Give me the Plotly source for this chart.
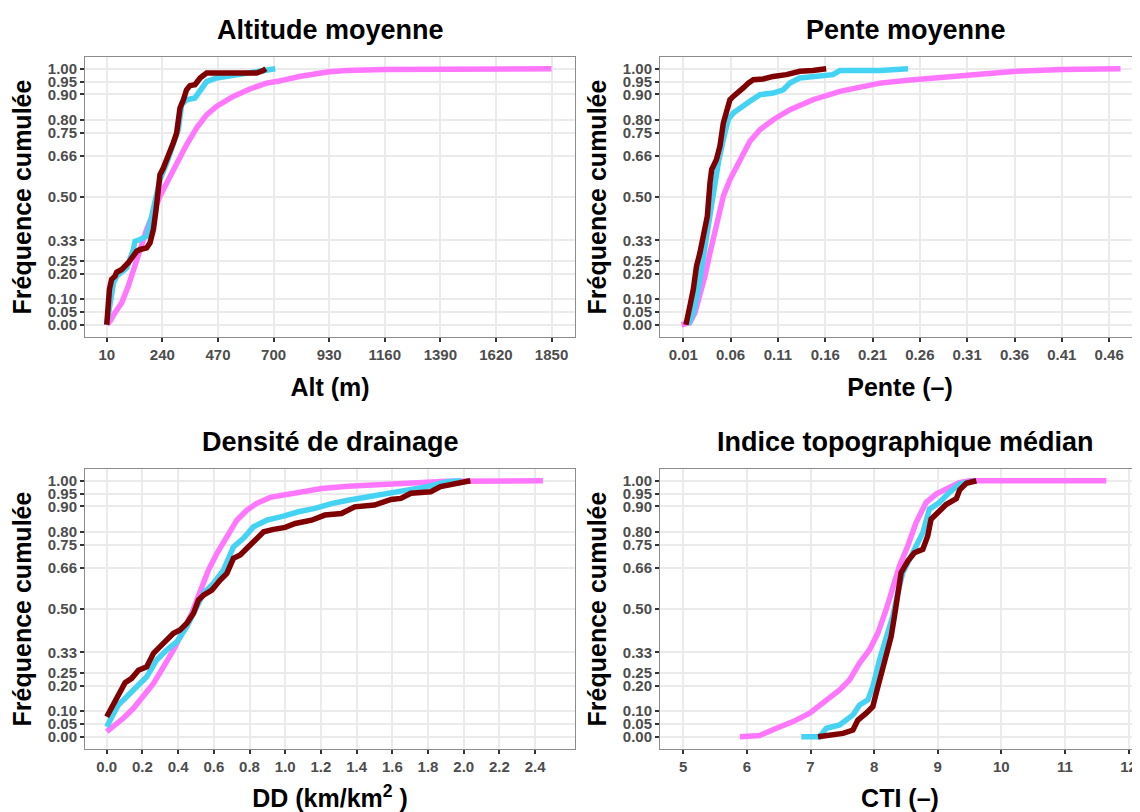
import plotly.graph_objects as go

# ---------------- data ----------------
# Colours / series: pink = tous les bassins, cyan = échantillon 1, maroon = échantillon 2
series_names = ["Tous les bassins", "Échantillon 1", "Échantillon 2"]

# Y ticks (shared)
y_tickvals = [0.00, 0.05, 0.10, 0.20, 0.25, 0.33, 0.50, 0.66, 0.75, 0.80, 0.90, 0.95, 1.00]
y_ticktext = ["0.00", "0.05", "0.10", "0.20", "0.25", "0.33", "0.50", "0.66", "0.75", "0.80", "0.90", "0.95", "1.00"]

# --- Altitude moyenne ---
alt_ticks = [10, 240, 470, 700, 930, 1160, 1390, 1620, 1850]
alt_pink_x = [10, 24, 44, 72, 99, 120, 148, 175, 203, 230, 258, 299, 340, 382, 423, 464, 533, 602, 671, 723, 806, 930, 1000, 1160, 1400, 1850]
alt_pink_f = [0.0, 0.014, 0.047, 0.086, 0.151, 0.216, 0.294, 0.372, 0.437, 0.502, 0.554, 0.632, 0.703, 0.769, 0.82, 0.853, 0.892, 0.921, 0.944, 0.952, 0.97, 0.988, 0.993, 0.997, 0.999, 1.0]
alt_cyan_x = [10, 24, 38, 51, 93, 120, 127, 148, 175, 196, 217, 230, 258, 285, 306, 320, 340, 375, 396, 423, 464, 506, 561, 643, 671, 707]
alt_cyan_f = [0.0, 0.086, 0.164, 0.19, 0.222, 0.294, 0.326, 0.333, 0.346, 0.424, 0.502, 0.567, 0.632, 0.697, 0.762, 0.86, 0.879, 0.886, 0.912, 0.95, 0.964, 0.97, 0.983, 0.99, 0.996, 1.0]
alt_maroon_x = [10, 14, 21, 30, 44, 51, 72, 99, 120, 134, 148, 175, 189, 203, 214, 223, 230, 244, 265, 285, 299, 313, 327, 340, 354, 375, 396, 423, 533, 630, 657, 668]
alt_maroon_f = [0.0, 0.05, 0.138, 0.177, 0.19, 0.205, 0.216, 0.242, 0.268, 0.287, 0.294, 0.30, 0.32, 0.372, 0.45, 0.528, 0.586, 0.612, 0.658, 0.71, 0.749, 0.847, 0.879, 0.918, 0.934, 0.938, 0.964, 0.983, 0.983, 0.983, 0.993, 1.0]

# --- Pente moyenne ---
pente_ticks = [0.01, 0.06, 0.11, 0.16, 0.21, 0.26, 0.31, 0.36, 0.41, 0.46]
pente_pink_x = [0.0082, 0.017, 0.0223, 0.0276, 0.0329, 0.0382, 0.0452, 0.0523, 0.0593, 0.0663, 0.0734, 0.0804, 0.091, 0.105, 0.1227, 0.147, 0.1755, 0.2177, 0.25, 0.281, 0.31, 0.3615, 0.41, 0.472]
pente_pink_f = [0.0, 0.008, 0.047, 0.112, 0.19, 0.281, 0.398, 0.502, 0.567, 0.619, 0.671, 0.717, 0.762, 0.801, 0.84, 0.879, 0.912, 0.944, 0.956, 0.965, 0.975, 0.99, 0.997, 1.0]
pente_cyan_x = [0.0153, 0.0206, 0.0258, 0.0311, 0.0364, 0.0417, 0.047, 0.0523, 0.0575, 0.0628, 0.0699, 0.0804, 0.091, 0.105, 0.1156, 0.1227, 0.133, 0.147, 0.168, 0.1755, 0.218, 0.2475]
pente_cyan_f = [0.0, 0.047, 0.138, 0.268, 0.385, 0.515, 0.632, 0.723, 0.801, 0.827, 0.847, 0.873, 0.899, 0.905, 0.918, 0.944, 0.964, 0.97, 0.977, 0.993, 0.993, 1.0]
pente_maroon_x = [0.0128, 0.0142, 0.017, 0.0206, 0.024, 0.0276, 0.0318, 0.0354, 0.0382, 0.040, 0.045, 0.0487, 0.0523, 0.0558, 0.0593, 0.0628, 0.0681, 0.0734, 0.0787, 0.084, 0.0945, 0.105, 0.119, 0.1332, 0.147, 0.161]
pente_maroon_f = [0.0, 0.034, 0.073, 0.138, 0.229, 0.281, 0.346, 0.424, 0.554, 0.606, 0.645, 0.697, 0.788, 0.834, 0.879, 0.892, 0.912, 0.925, 0.944, 0.957, 0.96, 0.97, 0.977, 0.99, 0.993, 1.0]

# --- Densité de drainage ---
dd_ticks = [0.0, 0.2, 0.4, 0.6, 0.8, 1.0, 1.2, 1.4, 1.6, 1.8, 2.0, 2.2, 2.4]
dd_pink_x = [0.0, 0.037, 0.093, 0.15, 0.206, 0.262, 0.318, 0.374, 0.43, 0.477, 0.523, 0.57, 0.617, 0.673, 0.729, 0.785, 0.841, 0.916, 1.0, 1.093, 1.204, 1.352, 1.537, 1.722, 1.907, 2.444]
dd_pink_f = [0.02, 0.039, 0.072, 0.111, 0.156, 0.208, 0.273, 0.339, 0.417, 0.482, 0.566, 0.651, 0.716, 0.781, 0.846, 0.885, 0.912, 0.935, 0.945, 0.957, 0.97, 0.979, 0.987, 0.993, 0.998, 1.0]
dd_cyan_x = [0.0, 0.028, 0.065, 0.112, 0.168, 0.224, 0.28, 0.336, 0.393, 0.449, 0.505, 0.542, 0.598, 0.654, 0.71, 0.766, 0.822, 0.897, 0.991, 1.074, 1.167, 1.259, 1.352, 1.463, 1.574, 1.685, 1.796, 1.907, 1.985]
dd_cyan_f = [0.039, 0.078, 0.124, 0.156, 0.195, 0.234, 0.30, 0.339, 0.371, 0.43, 0.508, 0.56, 0.599, 0.651, 0.742, 0.775, 0.82, 0.846, 0.862, 0.879, 0.892, 0.911, 0.924, 0.9375, 0.95, 0.964, 0.977, 0.996, 1.0]
dd_maroon_x = [0.0, 0.019, 0.047, 0.075, 0.103, 0.14, 0.178, 0.224, 0.262, 0.299, 0.336, 0.374, 0.411, 0.449, 0.486, 0.514, 0.542, 0.589, 0.636, 0.673, 0.71, 0.748, 0.794, 0.841, 0.879, 0.935, 1.0, 1.056, 1.148, 1.222, 1.315, 1.389, 1.5, 1.593, 1.648, 1.704, 1.815, 1.87, 1.963, 2.0, 2.037]
dd_maroon_f = [0.078, 0.104, 0.143, 0.182, 0.211, 0.228, 0.26, 0.273, 0.326, 0.352, 0.378, 0.404, 0.417, 0.443, 0.482, 0.534, 0.553, 0.573, 0.612, 0.638, 0.697, 0.71, 0.742, 0.775, 0.801, 0.81, 0.818, 0.833, 0.846, 0.866, 0.872, 0.898, 0.905, 0.927, 0.931, 0.951, 0.957, 0.977, 0.987, 0.996, 1.0]

# --- Indice topographique médian ---
cti_ticks = [5, 6, 7, 8, 9, 10, 11, 12]
cti_pink_x = [5.889, 6.2, 6.464, 6.726, 6.987, 7.248, 7.458, 7.614, 7.771, 7.928, 8.059, 8.19, 8.294, 8.399, 8.529, 8.66, 8.817, 8.974, 9.183, 9.34, 9.503, 11.65]
cti_pink_f = [0.0, 0.005, 0.033, 0.059, 0.092, 0.144, 0.183, 0.222, 0.288, 0.34, 0.405, 0.497, 0.575, 0.667, 0.745, 0.837, 0.915, 0.948, 0.974, 0.993, 1.0, 1.0]
cti_cyan_x = [6.856, 7.144, 7.248, 7.458, 7.667, 7.771, 7.902, 7.98, 8.085, 8.19, 8.294, 8.373, 8.451, 8.608, 8.765, 8.869, 9.026, 9.183, 9.34, 9.6]
cti_cyan_f = [0.0, 0.0, 0.033, 0.046, 0.085, 0.124, 0.144, 0.196, 0.301, 0.379, 0.471, 0.562, 0.641, 0.719, 0.797, 0.889, 0.915, 0.954, 0.987, 1.0]
cti_maroon_x = [7.118, 7.51, 7.667, 7.745, 7.876, 7.98, 8.033, 8.111, 8.19, 8.268, 8.32, 8.373, 8.425, 8.529, 8.634, 8.765, 8.843, 8.895, 8.974, 9.052, 9.136, 9.293, 9.346, 9.45, 9.607]
cti_maroon_f = [0.0, 0.013, 0.026, 0.065, 0.092, 0.118, 0.17, 0.248, 0.327, 0.392, 0.471, 0.562, 0.641, 0.686, 0.719, 0.732, 0.784, 0.85, 0.87, 0.889, 0.908, 0.93, 0.965, 0.99, 1.0]

# ---------------- figure ----------------
# page body has an 8px margin: figure placed at (8, 8) in the 1140x812 window
OFF = 8
W, H = 1132, 804
colors = ["#FF77FF", "#45D3F3", "#7F0000"]
FONT = "Liberation Sans, Arial, sans-serif"

fig = go.Figure()

panels = [
    # (axis suffix, series, title, xlabel, xticks, xticktext, xrange, dom_x(screen px), dom_y(screen px), title_cx)
    ("", [(alt_pink_x, alt_pink_f), (alt_cyan_x, alt_cyan_f), (alt_maroon_x, alt_maroon_f)],
     "Altitude moyenne", "Alt (m)", alt_ticks, [str(v) for v in alt_ticks], [-80, 1947], (85, 575), (57, 337), 330),
    ("2", [(pente_pink_x, pente_pink_f), (pente_cyan_x, pente_cyan_f), (pente_maroon_x, pente_maroon_f)],
     "Pente moyenne", "Pente (–)", pente_ticks, ["%.2f" % v for v in pente_ticks], [-0.0146, 0.4926], (660, 1140), (57, 337), 905.5),
    ("3", [(dd_pink_x, dd_pink_f), (dd_cyan_x, dd_cyan_f), (dd_maroon_x, dd_maroon_f)],
     "Densité de drainage", "DD (km/km<sup>2</sup> )", dd_ticks, ["%.1f" % v for v in dd_ticks], [-0.1216, 2.6235], (85, 575), (469, 749), 330),
    ("4", [(cti_pink_x, cti_pink_f), (cti_cyan_x, cti_cyan_f), (cti_maroon_x, cti_maroon_f)],
     "Indice topographique médian", "CTI (–)", cti_ticks, [str(v) for v in cti_ticks], [4.634, 12.18], (660, 1140), (469, 749), 905.5),
]

annotations = []
for suffix, series, title, xlabel, xt, xtt, xr, dx, dy, tcx in panels:
    xa = "x" + suffix
    ya = "y" + suffix
    for i, (xs, fs) in enumerate(series):
        fig.add_trace(go.Scatter(
            x=xs, y=fs, mode="lines", name=series_names[i], showlegend=False,
            line=dict(color=colors[i], width=5.5),
            xaxis=xa, yaxis=ya,
        ))
    axis_common = dict(
        showline=True, linecolor="#8C8C8C", linewidth=1, mirror=True,
        ticks="outside", ticklen=4, tickwidth=1.5, tickcolor="#333333",
        showgrid=True, gridcolor="#EBEBEB", gridwidth=1.5,
        zeroline=False, automargin=False,
        tickfont=dict(family=FONT, size=15, color="#4D4D4D", weight="bold"),
    )
    x_dom = [(dx[0] - OFF) / W, min(1.0, (dx[1] - OFF) / W)]
    y_dom = [1 - (dy[1] - OFF) / H, 1 - (dy[0] - OFF) / H]
    fig.update_layout(**{
        "xaxis" + suffix: dict(
            axis_common, domain=x_dom, range=xr, anchor=ya,
            tickmode="array", tickvals=xt, ticktext=xtt,
            title=dict(text=xlabel, standoff=16,
                       font=dict(family=FONT, size=25, color="#000000", weight="bold")),
        ),
        "yaxis" + suffix: dict(
            axis_common, domain=y_dom, range=[-0.048, 1.046], anchor=xa,
            tickmode="array", tickvals=y_tickvals, ticktext=y_ticktext,
            title=dict(text="Fréquence cumulée", standoff=9,
                       font=dict(family=FONT, size=25, color="#000000", weight="bold")),
        ),
    })
    annotations.append(dict(
        text=title, x=(tcx - OFF) / W, y=1 - (dy[0] - 27 - OFF) / H, xref="paper", yref="paper",
        xanchor="center", yanchor="middle", showarrow=False,
        font=dict(family=FONT, size=27, color="#000000", weight="bold"),
    ))

fig.update_layout(
    width=W, height=H, template="none",
    margin=dict(l=0, r=0, t=0, b=0),
    paper_bgcolor="white", plot_bgcolor="white",
    annotations=annotations,
    showlegend=False,
)

fig.write_html("out.html")
